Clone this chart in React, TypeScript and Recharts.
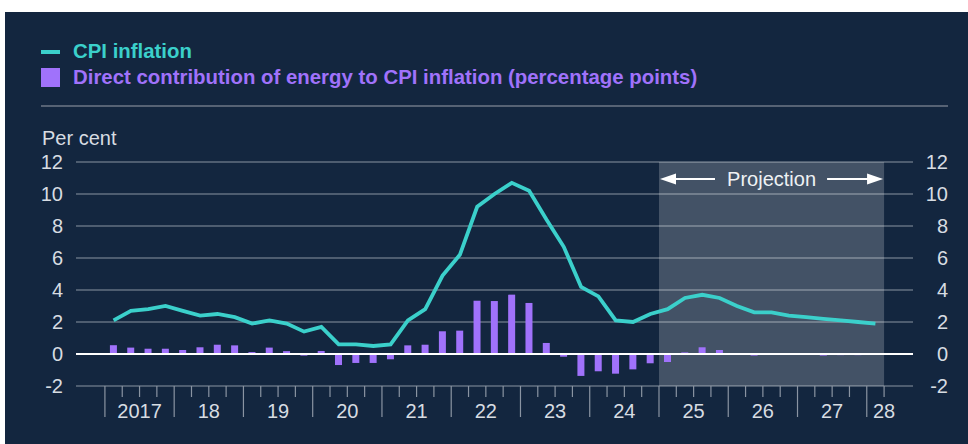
import {
  Bar,
  CartesianGrid,
  ComposedChart,
  Line,
  ReferenceArea,
  ReferenceLine,
  XAxis,
  YAxis,
} from "recharts";

const quarters = [
  "2017 Q1", "2017 Q2", "2017 Q3", "2017 Q4",
  "2018 Q1", "2018 Q2", "2018 Q3", "2018 Q4",
  "2019 Q1", "2019 Q2", "2019 Q3", "2019 Q4",
  "2020 Q1", "2020 Q2", "2020 Q3", "2020 Q4",
  "2021 Q1", "2021 Q2", "2021 Q3", "2021 Q4",
  "2022 Q1", "2022 Q2", "2022 Q3", "2022 Q4",
  "2023 Q1", "2023 Q2", "2023 Q3", "2023 Q4",
  "2024 Q1", "2024 Q2", "2024 Q3", "2024 Q4",
  "2025 Q1", "2025 Q2", "2025 Q3", "2025 Q4",
  "2026 Q1", "2026 Q2", "2026 Q3", "2026 Q4",
  "2027 Q1", "2027 Q2", "2027 Q3", "2027 Q4",
  "2028 Q1",
];

const cpiInflation = [
  2.1, 2.7, 2.8, 3.0, 2.7, 2.4, 2.5, 2.3, 1.9, 2.1, 1.9, 1.4,
  1.7, 0.6, 0.6, 0.5, 0.6, 2.1, 2.8, 4.9, 6.2, 9.2, 10.0, 10.7,
  10.2, 8.4, 6.7, 4.2, 3.6, 2.1, 2.0, 2.5, 2.8, 3.5, 3.7, 3.5,
  3.0, 2.6, 2.6, 2.4, 2.3, 2.2, 2.1, 2.0, 1.9,
];

const energyContribution = [
  0.55, 0.4, 0.33, 0.33, 0.25, 0.42, 0.58, 0.54, 0.12, 0.4, 0.18, -0.1,
  0.19, -0.69, -0.56, -0.56, -0.33, 0.54, 0.58, 1.42, 1.46, 3.33, 3.31, 3.71,
  3.19, 0.69, -0.17, -1.37, -1.08, -1.23, -0.96, -0.58, -0.5, 0.1, 0.42, 0.25,
  0.0, -0.1, -0.03, -0.06, -0.03, -0.1, -0.07, -0.07, -0.05,
];

const yearLabels = ["2017", "18", "19", "20", "21", "22", "23", "24", "25", "26", "27", "28"];
const yTicks = [-2, 0, 2, 4, 6, 8, 10, 12];

const navy = "#13263f";
const teal = "#3bd0cb";
const purple = "#a072fb";
const grey = "#8a94a2";
const textColor = "#d7dce2";
const font = "'Liberation Sans', Arial, sans-serif";

const data = quarters.map((q, i) => ({
  t: i,
  quarter: q,
  cpi: cpiInflation[i],
  energy: energyContribution[i],
}));

// quarter boundaries sit half a step either side of each data point
const boundaries = [...quarters.map((_, i) => i - 0.5), quarters.length - 0.5];

const XTick = ({ x, y, payload }: any) => {
  const k = payload.value + 0.5;
  const yearEdge = k % 4 === 0;
  const last = k === quarters.length;
  let label: string | null = null;
  if (k % 4 === 2) label = yearLabels[(k - 2) / 4];
  if (last) label = yearLabels[yearLabels.length - 1];
  return (
    <g>
      <line x1={x} x2={x} y1={y} y2={y + (yearEdge ? 31 : 11)} stroke={grey} strokeWidth={1.2} />
      {label && (
        <text x={x} y={y + 32} textAnchor="middle" fill={textColor} fontSize={20} fontFamily={font}>
          {label}
        </text>
      )}
    </g>
  );
};

const LeftTick = ({ x, y, payload }: any) => (
  <text x={x} y={y} dy="0.36em" textAnchor="end" fill={textColor} fontSize={20} fontFamily={font}>
    {payload.value}
  </text>
);

const RightTick = ({ x, y, payload }: any) => (
  <text x={x + 35} y={y} dy="0.36em" textAnchor="end" fill={textColor} fontSize={20} fontFamily={font}>
    {payload.value}
  </text>
);

const ProjectionLabel = ({ viewBox }: any) => {
  const { x, y, width } = viewBox;
  const cy = y + 17;
  const right = x + width;
  return (
    <g>
      <line x1={x + 10} x2={x + 56} y1={cy} y2={cy} stroke="#fff" strokeWidth={2} />
      <polygon points={`${x + 1},${cy} ${x + 17},${cy - 5.5} ${x + 17},${cy + 5.5}`} fill="#fff" />
      <line x1={right - 57} x2={right - 10} y1={cy} y2={cy} stroke="#fff" strokeWidth={2} />
      <polygon points={`${right - 1},${cy} ${right - 17},${cy - 5.5} ${right - 17},${cy + 5.5}`} fill="#fff" />
      <text x={x + width / 2} y={cy} dy="0.36em" textAnchor="middle" fill="#eef1f4" fontSize={20} fontFamily={font}>
        Projection
      </text>
    </g>
  );
};

export default function App() {
  return (
    <div style={{ position: "absolute", left: 0, top: 0, width: 968, height: 444, background: "#fff", fontFamily: font }}>
      <div style={{ position: "absolute", left: 5, top: 12, width: 963, height: 432, background: navy }} />
      <div style={{ position: "absolute", left: 41, top: 50, width: 19, height: 4, background: teal }} />
      <div style={{ position: "absolute", left: 73, top: 40, fontSize: 20.4, fontWeight: 700, color: teal, lineHeight: "22px" }}>
        CPI inflation
      </div>
      <div style={{ position: "absolute", left: 41, top: 68, width: 19, height: 19, background: purple }} />
      <div style={{ position: "absolute", left: 73, top: 66, fontSize: 20.4, fontWeight: 700, color: purple, lineHeight: "22px" }}>
        Direct contribution of energy to CPI inflation (percentage points)
      </div>
      <div style={{ position: "absolute", left: 41, top: 105, width: 907, height: 2, background: "#566274" }} />
      <div style={{ position: "absolute", left: 42, top: 127, fontSize: 20, color: textColor, lineHeight: "22px" }}>
        Per cent
      </div>
      <div style={{ position: "absolute", left: 0, top: 0 }}>
        <ComposedChart width={968} height={444} data={data} margin={{ top: 162, right: 10, bottom: 0, left: 16 }}>
          <CartesianGrid yAxisId="left" horizontal vertical={false} stroke={grey} strokeWidth={1.2} />
          <ReferenceArea
            yAxisId="left"
            x1={31.5}
            x2={44.5}
            y1={-2}
            y2={12}
            fill="#ffffff"
            fillOpacity={0.205}
            stroke="none"
            ifOverflow="visible"
            label={<ProjectionLabel />}
          />
          <XAxis
            dataKey="t"
            type="number"
            domain={[-2.17, 46.17]}
            allowDataOverflow
            ticks={boundaries}
            interval={0}
            tick={<XTick />}
            tickLine={false}
            axisLine={false}
            tickSize={0}
            tickMargin={0}
            height={58}
          />
          <YAxis
            yAxisId="left"
            domain={[-2, 12]}
            ticks={yTicks}
            allowDataOverflow
            interval={0}
            width={60}
            tick={<LeftTick />}
            tickLine={false}
            axisLine={false}
            tickSize={0}
            tickMargin={13}
          />
          <YAxis
            yAxisId="right"
            orientation="right"
            domain={[-2, 12]}
            ticks={yTicks}
            allowDataOverflow
            interval={0}
            width={45}
            tick={<RightTick />}
            tickLine={false}
            axisLine={false}
            tickSize={0}
            tickMargin={0}
          />
          <Bar yAxisId="left" dataKey="energy" fill={purple} barSize={7} isAnimationActive={false} />
          <ReferenceLine yAxisId="left" y={0} stroke="#ffffff" strokeWidth={2} />
          <Line
            yAxisId="left"
            dataKey="cpi"
            type="linear"
            stroke={teal}
            strokeWidth={3.8}
            dot={false}
            isAnimationActive={false}
          />
        </ComposedChart>
      </div>
    </div>
  );
}
